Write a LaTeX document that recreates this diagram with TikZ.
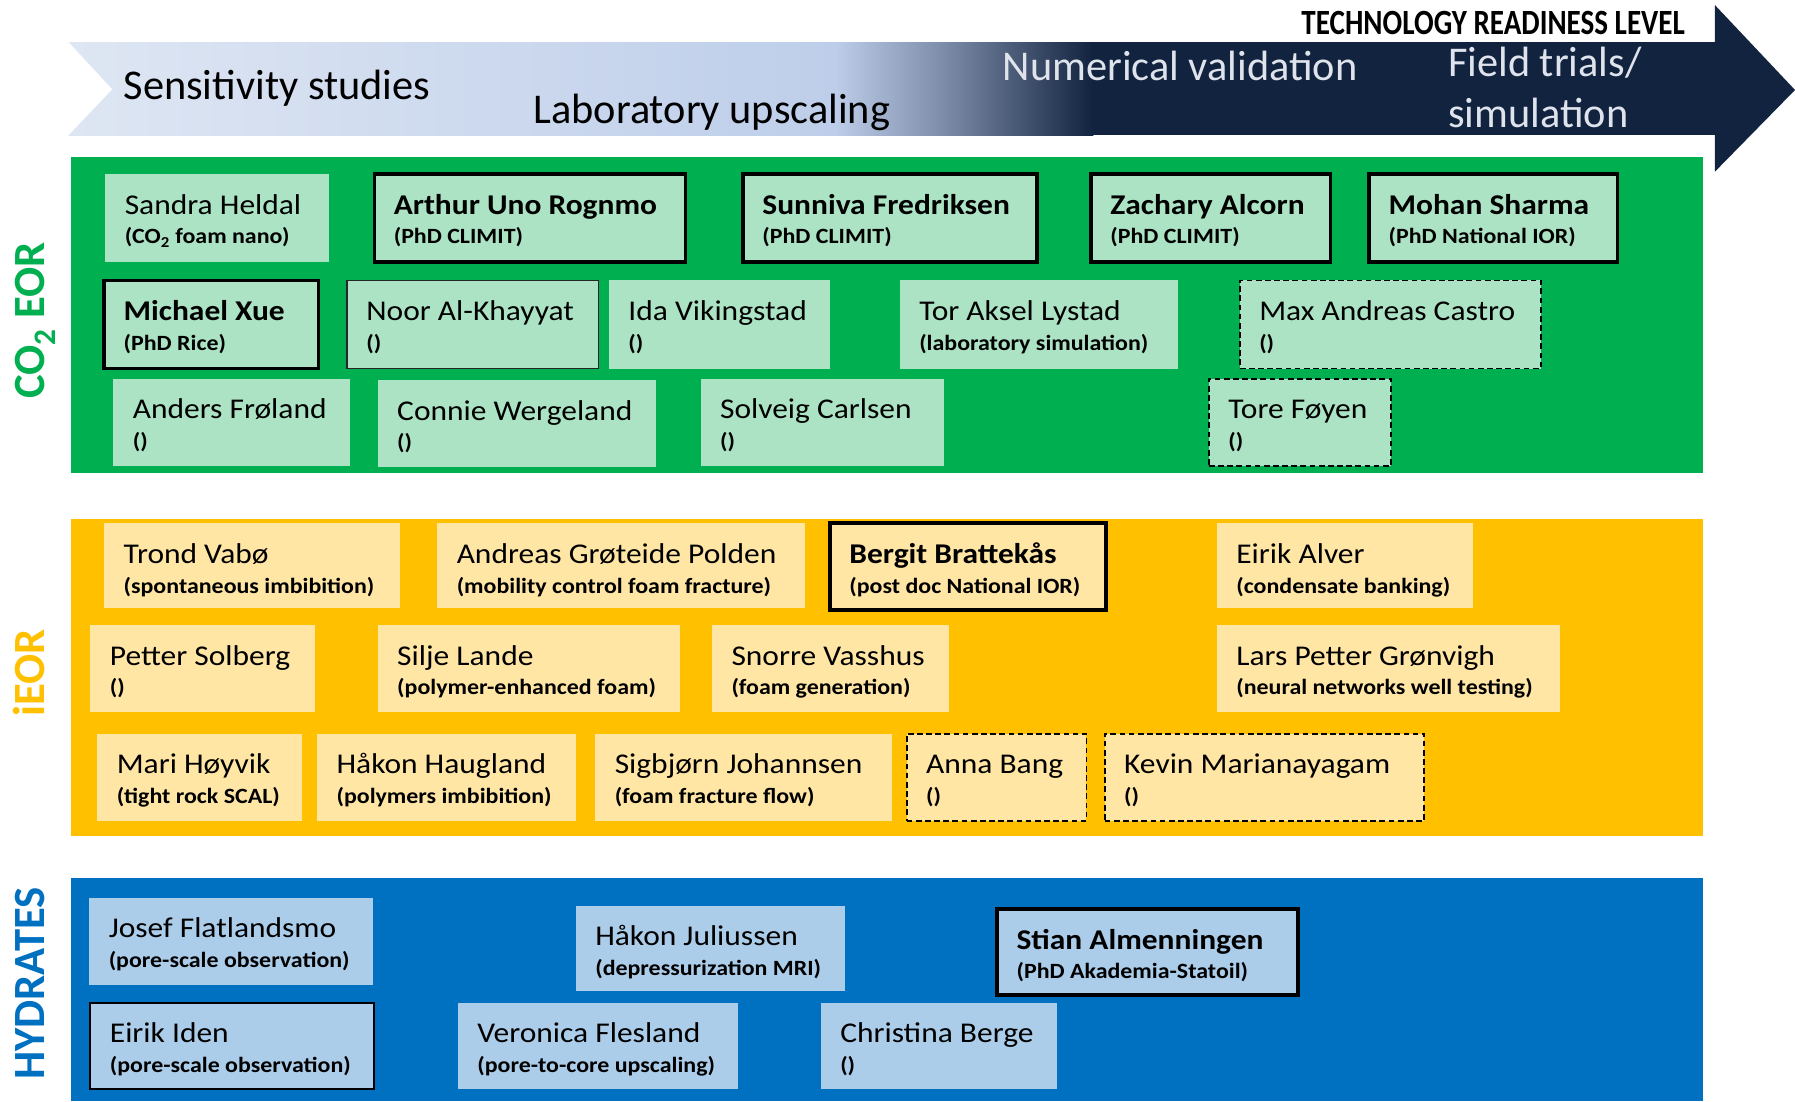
\documentclass[tikz,border=0pt]{standalone}
\usepackage{fontspec}
\setmainfont[FakeStretch=1.1]{Carlito}
\newfontfamily\plainfont{Carlito}
\newfontfamily\trlfont[FakeStretch=0.82]{Carlito}
\usetikzlibrary{calc}
\definecolor{navy}{RGB}{18,35,63}
\definecolor{bandA}{RGB}{222,230,243}
\definecolor{bandB}{RGB}{190,206,234}
\definecolor{bandC}{RGB}{120,136,165}
\definecolor{gband}{RGB}{0,176,80}
\definecolor{yband}{RGB}{255,192,0}
\definecolor{bband}{RGB}{0,112,192}
\definecolor{gbox}{RGB}{171,227,196}
\definecolor{ybox}{RGB}{255,230,165}
\definecolor{bbox}{RGB}{171,205,234}
\definecolor{lighttext}{RGB}{222,227,236}
\tikzset{
  nobox/.style={draw=none},
  thickbox/.style={draw=black, line width=3pt},
  dashbox/.style={draw=black, line width=1.5pt, dash pattern=on 5pt off 3pt},
  thinbox/.style={draw=black!85, line width=1.3pt},
  medbox/.style={draw=black, line width=1.8pt},
  nametext/.style={font=\fontsize{25}{25}\selectfont, inner sep=0pt, outer sep=0pt},
  subtext/.style={font=\bfseries\fontsize{19}{19}\selectfont, inner sep=0pt, outer sep=0pt},
  headtext/.style={font=\plainfont\fontsize{37}{37}\selectfont, inner sep=0pt, outer sep=0pt},
  sidelabel/.style={font=\plainfont\bfseries\fontsize{39}{39}\selectfont, rotate=90, anchor=base, inner sep=0pt},
}
\newcommand\personbox[9]{%
  \node[#6, fill=#7, rectangle, anchor=north west, inner sep=0pt, outer sep=0pt,
        minimum width={#4-#2}, minimum height={#5-#3}] (#1) at (#2,#3) {};
  \node[nametext, anchor=base west] (#1t) at ($(#1.north west)+(17,35)$) {#8};
  \node[subtext, anchor=base west] (#1s) at ($(#1.north west)+(17,61)$) {#9};
}
\begin{document}
\begin{tikzpicture}[x=1pt, y=-1pt]
\useasboundingbox (0,0) rectangle (1568,962);
\fill[white] (0,0) rectangle (1568,962);
% TRL arrow band
\fill[left color=bandA, right color=bandB] (60,37) rectangle (730,118);
\fill[left color=bandB, right color=bandC] (729,37) rectangle (830,118);
\fill[left color=bandC, right color=navy] (829,37) rectangle (955,118);
\fill[navy] (954,37) rectangle (1499,118);
\fill[navy] (1498,4.4) -- (1568,78.6) -- (1498,150) -- cycle;
\fill[white] (59,36) -- (98,78) -- (59,119) -- cycle;
\node[headtext, anchor=base west] (h1) at (108,87) {Sensitivity studies};
\node[headtext, anchor=base west] (h2) at (466,108) {Laboratory upscaling};
\node[headtext, anchor=base west, text=lighttext] (h3) at (876,70) {Numerical validation};
\node[headtext, anchor=base west, text=lighttext] (h4) at (1265,67) {Field trials/};
\node[headtext, anchor=base west, text=lighttext] (h5) at (1265,111) {simulation};
\node[font=\trlfont\bfseries\fontsize{31}{31}\selectfont, anchor=base east, inner sep=0pt] (trl) at (1472,30) {TECHNOLOGY READINESS LEVEL};
% bands
\fill[gband] (62,137) rectangle (1488,413);
\fill[yband] (62,453) rectangle (1488,730);
\fill[bband] (62,767) rectangle (1488,962);
\node[sidelabel, text=gband] (lco2) at (39,280) {CO\textsubscript{2} EOR};
\node[sidelabel, text=yband] (lieor) at (39,588) {iEOR};
\node[sidelabel, text=bband] (lhyd) at (39,859) {HYDRATES};
% CO2 EOR
\personbox{p1}{92}{152}{287}{229}{nobox}{gbox}{Sandra Heldal}{(CO\textsubscript{2} foam nano)}
\personbox{p2}{327}{152}{599}{229}{thickbox}{gbox}{\bfseries Arthur Uno Rognmo}{(PhD CLIMIT)}
\personbox{p3}{649}{152}{906}{229}{thickbox}{gbox}{\bfseries Sunniva Fredriksen}{(PhD CLIMIT)}
\personbox{p4}{953}{152}{1162}{229}{thickbox}{gbox}{\bfseries Zachary Alcorn}{(PhD CLIMIT)}
\personbox{p5}{1196}{152}{1413}{229}{thickbox}{gbox}{\bfseries Mohan Sharma}{(PhD National IOR)}
\personbox{p6}{91}{245}{278}{322}{thickbox}{gbox}{\bfseries Michael Xue}{(PhD Rice)}
\personbox{p7}{303}{245}{523}{322}{thinbox}{gbox}{Noor Al-Khayyat}{()}
\personbox{p8}{532}{245}{725}{322}{nobox}{gbox}{Ida Vikingstad}{()}
\personbox{p9}{786}{245}{1029}{322}{nobox}{gbox}{Tor Aksel Lystad}{(laboratory simulation)}
\personbox{p10}{1083}{245}{1346}{322}{dashbox}{gbox}{Max Andreas Castro}{()}
\personbox{p11}{99}{331}{306}{407}{nobox}{gbox}{Anders Frøland}{()}
\personbox{p12}{330}{332}{573}{408}{nobox}{gbox}{Connie Wergeland}{()}
\personbox{p13}{612}{331}{825}{407}{nobox}{gbox}{Solveig Carlsen}{()}
\personbox{p14}{1056}{331}{1215}{407}{dashbox}{gbox}{Tore Føyen}{()}
% iEOR
\personbox{q1}{91}{457}{349}{531}{nobox}{ybox}{Trond Vabø}{(spontaneous imbibition)}
\personbox{q2}{382}{457}{703}{531}{nobox}{ybox}{Andreas Grøteide Polden}{(mobility control foam fracture)}
\personbox{q3}{725}{457}{966}{533}{thickbox}{ybox}{\bfseries Bergit Brattekås}{(post doc National IOR)}
\personbox{q4}{1063}{457}{1287}{531}{nobox}{ybox}{Eirik Alver}{(condensate banking)}
\personbox{q5}{79}{546}{275}{622}{nobox}{ybox}{Petter Solberg}{()}
\personbox{q6}{330}{546}{594}{622}{nobox}{ybox}{Silje Lande}{(polymer-enhanced foam)}
\personbox{q7}{622}{546}{829}{622}{nobox}{ybox}{Snorre Vasshus}{(foam generation)}
\personbox{q8}{1063}{546}{1363}{622}{nobox}{ybox}{Lars Petter Grønvigh}{(neural networks well testing)}
\personbox{q9}{85}{641}{264}{717}{nobox}{ybox}{Mari Høyvik}{(tight rock SCAL)}
\personbox{q10}{277}{641}{503}{717}{nobox}{ybox}{Håkon Haugland}{(polymers imbibition)}
\personbox{q11}{520}{641}{779}{717}{nobox}{ybox}{Sigbjørn Johannsen}{(foam fracture flow)}
\personbox{q12}{792}{641}{949}{717}{dashbox}{ybox}{Anna Bang}{()}
\personbox{q13}{965}{641}{1244}{717}{dashbox}{ybox}{Kevin Marianayagam}{()}
% Hydrates
\personbox{r1}{78}{784}{326}{860}{nobox}{bbox}{Josef Flatlandsmo}{(pore-scale observation)}
\personbox{r2}{503}{791}{738}{866}{nobox}{bbox}{Håkon Juliussen}{(depressurization MRI)}
\personbox{r3}{871}{794}{1134}{869}{thickbox}{bbox}{\bfseries Stian Almenningen}{(PhD Akademia-Statoil)}
\personbox{r4}{79}{876}{327}{951}{medbox}{bbox}{Eirik Iden}{(pore-scale observation)}
\personbox{r5}{400}{876}{645}{951}{nobox}{bbox}{Veronica Flesland}{(pore-to-core upscaling)}
\personbox{r6}{717}{876}{923}{951}{nobox}{bbox}{Christina Berge}{()}
\end{tikzpicture}
\end{document}
